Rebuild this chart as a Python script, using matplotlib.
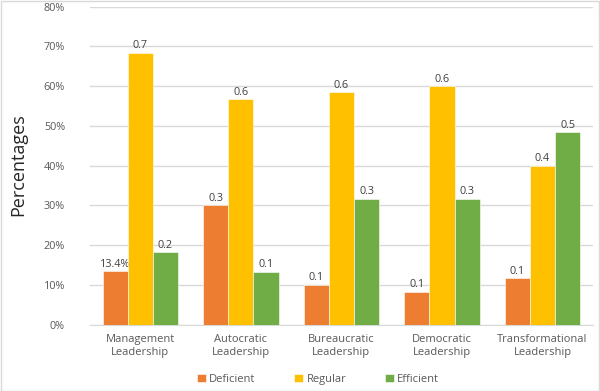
import numpy as np
import matplotlib.pyplot as plt
from matplotlib.ticker import PercentFormatter

categories = ["Management\nLeadership", "Autocratic\nLeadership", "Bureaucratic\nLeadership",
              "Democratic\nLeadership", "Transformational\nLeadership"]
deficient = [0.134, 0.300, 0.100, 0.082, 0.116]
regular = [0.684, 0.567, 0.584, 0.600, 0.400]
efficient = [0.182, 0.132, 0.316, 0.316, 0.484]
deficient_labels = ["13.4%", "0.3", "0.1", "0.1", "0.1"]
regular_labels = ["0.7", "0.6", "0.6", "0.6", "0.4"]
efficient_labels = ["0.2", "0.1", "0.3", "0.3", "0.5"]

plt.rcParams['font.family'] = ['Open Sans', 'DejaVu Sans']
TXT = "#595959"

fig = plt.figure(figsize=(6, 3.91), dpi=100)
ax = fig.add_axes([0.15, 0.17, 0.838, 0.813])

x = np.arange(len(categories))
w = 0.25
series = [
    ("Deficient", deficient, deficient_labels, "#ED7D31", -w),
    ("Regular", regular, regular_labels, "#FFC000", 0),
    ("Efficient", efficient, efficient_labels, "#70AD47", w),
]
for name, vals, labs, col, off in series:
    bars = ax.bar(x + off, vals, w, color=col, label=name, zorder=3,
                  edgecolor="white", linewidth=0.4)
    for b, lab in zip(bars, labs):
        ax.text(b.get_x() + b.get_width() / 2, b.get_height() + 0.004, lab,
                ha="center", va="bottom", fontsize=7.8, color="#404040")

ax.set_xlim(-0.5, len(categories) - 0.5)
ax.set_ylim(0, 0.8)
ax.set_yticks(np.arange(0, 0.81, 0.1))
ax.yaxis.set_major_formatter(PercentFormatter(1.0, decimals=0))
ax.grid(axis="y", color="#D9D9D9", linewidth=1, zorder=0)
ax.set_xticks(x)
ax.set_xticklabels(categories, fontsize=8, color=TXT)
ax.tick_params(axis="y", labelsize=7.8, labelcolor=TXT, length=0, pad=18)
ax.tick_params(axis="x", length=0, pad=7)
for s in ["top", "right", "left"]:
    ax.spines[s].set_visible(False)
ax.spines["bottom"].set_color("#D9D9D9")

fig.text(0.03, 0.58, "Percentages", rotation=90, ha="center", va="center",
         fontsize=13, color="#262626")

fig.legend(loc="lower center", ncol=3, frameon=False, fontsize=8,
           bbox_to_anchor=(0.53, -0.01), handlelength=0.8, handleheight=0.8,
           columnspacing=3.5, handletextpad=0.3, labelcolor=TXT)

fig.patches.append(plt.Rectangle((0.001, 0.001), 0.997, 0.997, transform=fig.transFigure,
                                 fill=False, edgecolor="#D9D9D9", linewidth=1))

fig.savefig("out.png", dpi=100)
